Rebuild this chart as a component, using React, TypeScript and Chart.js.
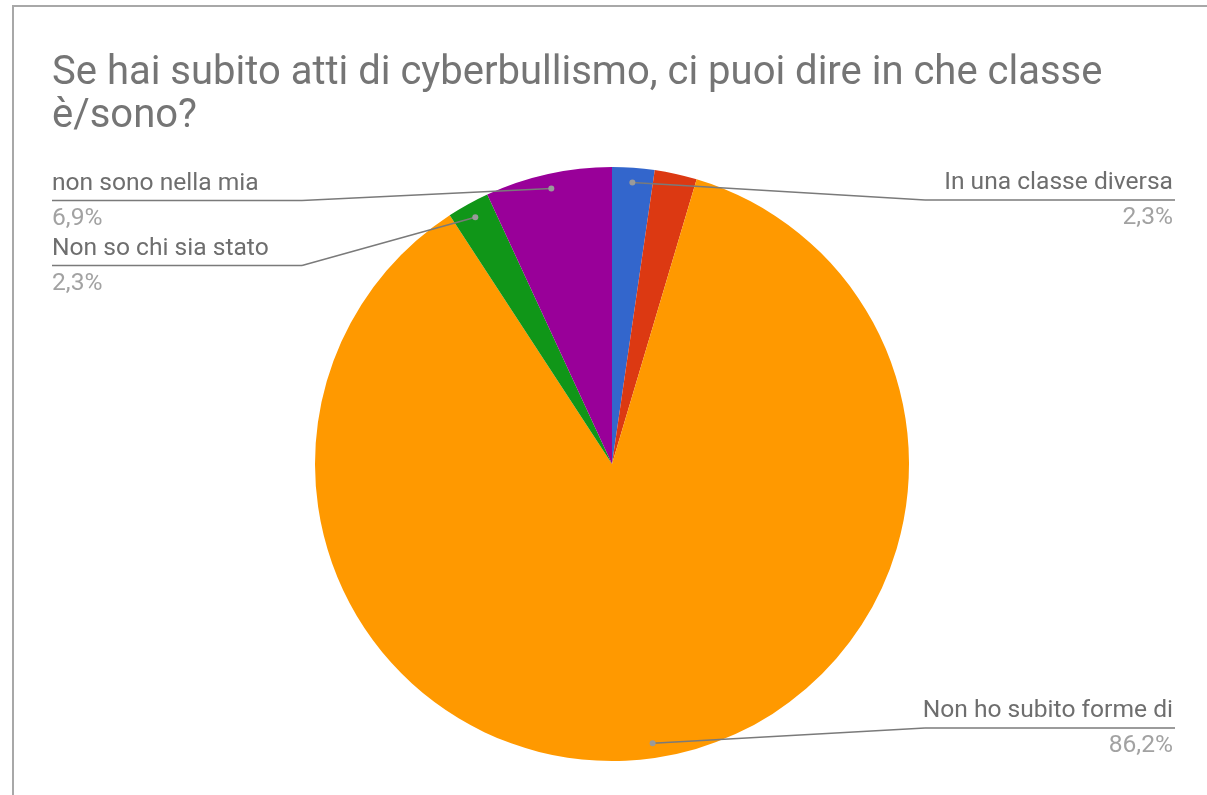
import React, { useEffect, useRef } from "react";
import { Chart, registerables } from "chart.js";

Chart.register(...registerables);

const titleLines = ["Se hai subito atti di cyberbullismo, ci puoi dire in che classe", "è/sono?"];
const categories = [
  "In una classe diversa",
  "Nella mia classe",
  "Non ho subito forme di",
  "Non so chi sia stato",
  "non sono nella mia",
];
const values = [2.3, 2.3, 86.2, 2.3, 6.9];
const valueLabels = ["2,3%", "2,3%", "86,2%", "2,3%", "6,9%"];
const showLabel = [true, false, true, true, true];
const colors = ["#3366cc", "#dc3912", "#ff9900", "#109618", "#990099"];

const FONT = "Roboto, 'Noto Sans', sans-serif";

const decorPlugin = {
  id: "decor",
  beforeDraw(chart: any) {
    const ctx = chart.ctx;
    const { width, height } = chart;
    ctx.save();
    ctx.fillStyle = "#ffffff";
    ctx.fillRect(0, 0, width, height);
    // frame
    ctx.strokeStyle = "#a8a8a8";
    ctx.lineWidth = 2;
    ctx.beginPath();
    ctx.moveTo(width, 6);
    ctx.lineTo(13, 6);
    ctx.lineTo(13, height);
    ctx.stroke();
    // title
    ctx.fillStyle = "#757575";
    ctx.font = `40px ${FONT}`;
    ctx.textAlign = "left";
    ctx.textBaseline = "alphabetic";
    ctx.fillText(titleLines[0], 52, 84);
    ctx.fillText(titleLines[1], 52, 127);
    ctx.restore();
  },
  afterDatasetsDraw(chart: any) {
    const ctx = chart.ctx;
    const meta = chart.getDatasetMeta(0);
    const area = chart.chartArea;
    const leftX = 52;
    const rightX = 1175;
    const lineLen = 250;
    const items: any[] = [];
    meta.data.forEach((arc: any, i: number) => {
      if (!showLabel[i]) return;
      const mid = (arc.startAngle + arc.endAngle) / 2;
      const r = arc.outerRadius * 0.95;
      const dx = arc.x + Math.cos(mid) * r;
      const dy = arc.y + Math.sin(mid) * r;
      const side = Math.cos(mid) >= 0 ? "right" : "left";
      items.push({ i, dx, dy, side, y: dy + 12 });
    });
    const minY = area.top + 33;
    const maxY = area.bottom - 33;
    const gap = 65;
    ["left", "right"].forEach((side) => {
      const list = items.filter((it) => it.side === side).sort((a, b) => a.y - b.y);
      let prev = -Infinity;
      list.forEach((it) => {
        it.y = Math.min(Math.max(it.y, minY, prev + gap), maxY);
        prev = it.y;
      });
    });
    ctx.save();
    items.forEach((it) => {
      const left = it.side === "left";
      const xa = left ? leftX : rightX - lineLen;
      const xb = left ? leftX + lineLen : rightX;
      const bend = left ? xb : xa;
      ctx.strokeStyle = "#7a7a7a";
      ctx.lineWidth = 1.5;
      ctx.beginPath();
      ctx.moveTo(xa, it.y);
      ctx.lineTo(xb, it.y);
      ctx.stroke();
      ctx.beginPath();
      ctx.moveTo(bend, it.y);
      ctx.lineTo(it.dx, it.dy);
      ctx.stroke();
      ctx.fillStyle = "#9a9a9a";
      ctx.beginPath();
      ctx.arc(it.dx, it.dy, 3, 0, Math.PI * 2);
      ctx.fill();
      ctx.font = `24.6px ${FONT}`;
      ctx.textBaseline = "middle";
      ctx.textAlign = left ? "left" : "right";
      const tx = left ? leftX : rightX - 2;
      ctx.fillStyle = "#6e6e6e";
      ctx.fillText(categories[it.i], tx, it.y - 17);
      ctx.fillStyle = "#a2a2a2";
      ctx.fillText(valueLabels[it.i], tx, it.y + 18);
    });
    ctx.restore();
  },
};

export default function App() {
  const ref = useRef<HTMLCanvasElement | null>(null);
  useEffect(() => {
    if (!ref.current) return;
    const chart = new Chart(ref.current, {
      type: "pie",
      data: {
        labels: categories,
        datasets: [
          {
            data: values,
            backgroundColor: colors,
            borderWidth: 0,
          },
        ],
      },
      options: {
        animation: false,
        responsive: false,
        maintainAspectRatio: false,
        layout: { padding: { top: 167, bottom: 34, left: 17, right: 0 } },
        plugins: {
          legend: { display: false },
          tooltip: { enabled: false },
          title: { display: false },
        },
      },
      plugins: [decorPlugin],
    });
    return () => chart.destroy();
  }, []);
  return (
    <div style={{ position: "fixed", left: 0, top: 0, width: 1207, height: 795, background: "#fff" }}>
      <canvas ref={ref} width={1207} height={795} style={{ display: "block" }} />
    </div>
  );
}
